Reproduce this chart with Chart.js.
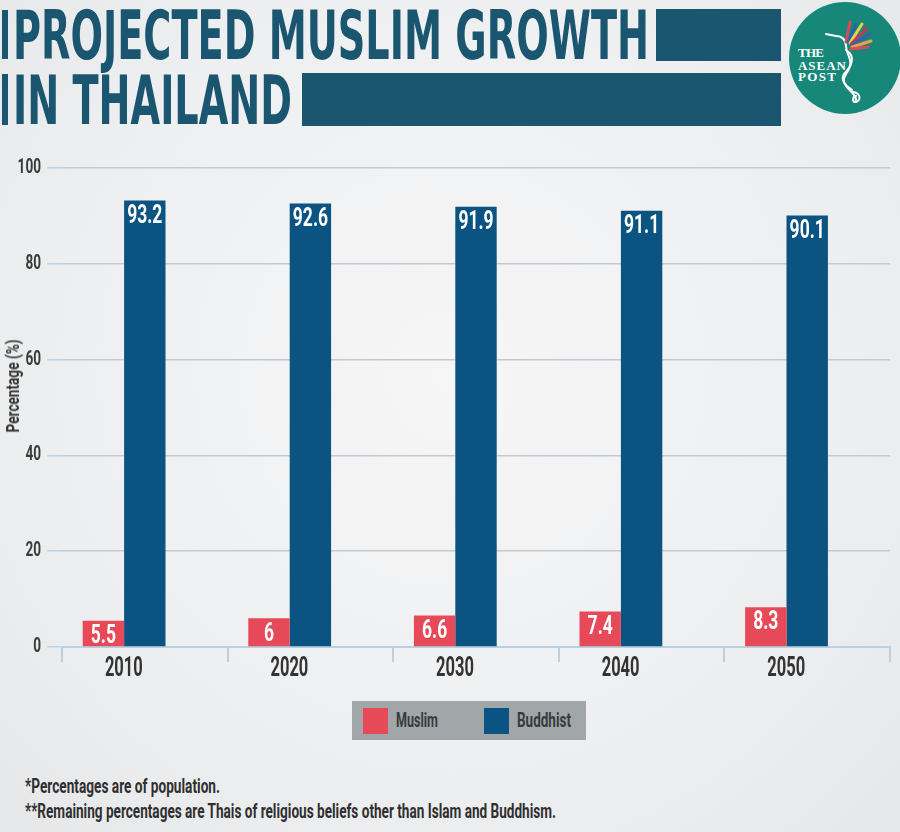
<!DOCTYPE html>
<html>
<head>
<meta charset="utf-8">
<script src="https://cdn.jsdelivr.net/npm/chart.js@4.4.1/dist/chart.umd.min.js"></script>
<style>
  html, body { margin: 0; padding: 0; }
  body {
    width: 900px; height: 832px; position: relative; overflow: hidden;
    background: radial-gradient(ellipse at 50% 45%, #f6f6f7 0%, #eeeff0 60%, #e6e7e9 100%);
    font-family: Roboto, sans-serif;
  }
  .abs { position: absolute; }
  .tbar { position: absolute; background: #1a566f; }
  .ttext {
    position: absolute; color: #1a566f; white-space: nowrap;
    font-family: 'DejaVu Sans', sans-serif;
    font-weight: bold; font-size: 68px; line-height: 68px; transform-origin: 0 0;
  }
  .fit { transform-origin: 0 0; white-space: nowrap; }
  #chartWrap { position: absolute; left: 0; top: 150px; width: 900px; height: 540px; }
  #ytitle { position: absolute; left: 13px; top: 386px; width: 0; height: 0; }
  #ytitle span {
    position: absolute; left: 0; top: 0; color: #333; font-size: 18px; font-weight: bold;
    white-space: nowrap; line-height: 18px;
  }
  #legend {
    position: absolute; left: 352px; top: 701px; width: 234px; height: 39px; background: #a1a6a9;
  }
  .sw { position: absolute; top: 7px; width: 25px; height: 26px; }
  .lt { position: absolute; top: 7px; font-size: 21px; font-weight: bold; color: #383b3e; line-height: 24px; }
  .note { position: absolute; left: 25px; color: #2f2f2f; font-size: 21px; font-weight: bold; line-height: 22px; }
</style>
</head>
<body>

<!-- title -->
<div class="tbar" style="left:2px;top:10px;width:6px;height:49px"></div>
<div class="ttext" id="t1" data-w="636" style="left:13px;top:2px">PROJECTED MUSLIM GROWTH</div>
<div class="tbar" style="left:656px;top:9px;width:125px;height:52px"></div>
<div class="tbar" style="left:2px;top:74px;width:6px;height:51px"></div>
<div class="ttext" id="t2" data-w="279" style="left:13px;top:67px">IN THAILAND</div>
<div class="tbar" style="left:302px;top:73px;width:479px;height:53px"></div>

<!-- logo -->
<svg class="abs" style="left:780px;top:0" width="120" height="120" viewBox="780 0 120 120">
  <circle cx="845" cy="58" r="56" fill="#17877a"/>
  <g font-family="'Liberation Serif','DejaVu Serif',serif" font-weight="bold" font-size="13" fill="#fff">
    <text x="798" y="57" textLength="26">THE</text>
    <text x="798" y="69.5" textLength="48">ASEAN</text>
    <text x="798" y="81" textLength="38">POST</text>
  </g>
  <g fill="none" stroke="#fff" stroke-width="2" stroke-linecap="round">
    <path d="M826 34 L836 36 C842 36 846 40 846 46 C846 54 852 58 850 66 C848 74 840 78 846 86 C850 92 856 94 856 100"/>
    <path d="M846 50 C856 56 852 66 844 74 C840 80 846 86 852 90"/>
    <path d="M852 92 C860 92 862 100 856 102 C852 102 852 97 856 96"/>
  </g>
  <g stroke-width="3" stroke-linecap="round">
    <path d="M846 42 L850 22" stroke="#d64a5a"/>
    <path d="M848 42 L856 24" stroke="#2c63a8"/>
    <path d="M850 43 L862 24" stroke="#e9d04a"/>
    <path d="M851 44 L867 28" stroke="#c2385a"/>
    <path d="M852 45 L870 34" stroke="#3b5fa8"/>
    <path d="M852 47 L871 41" stroke="#e8a34a"/>
    <path d="M851 49 L868 47" stroke="#d64a5a"/>
  </g>
</svg>

<div id="chartWrap"><canvas id="chart" width="900" height="540"></canvas></div>
<div id="ytitle"><span id="ytxt">Percentage (%)</span></div>

<div id="legend">
  <div class="sw" style="left:11px;background:#e64a59"></div>
  <div class="lt fit" data-w="42" style="left:44px">Muslim</div>
  <div class="sw" style="left:132px;background:#0b5380"></div>
  <div class="lt fit" data-w="54" style="left:165px">Buddhist</div>
</div>

<div class="note fit" data-w="195" style="top:775px">*Percentages are of population.</div>
<div class="note fit" data-w="531" style="top:800px">**Remaining percentages are Thais of religious beliefs other than Islam and Buddhism.</div>

<script>
// ── DATA ──────────────────────────────────────────────────────────────────────

const YEARS    = ['2010', '2020', '2030', '2040', '2050'];
const MUSLIM   = [5.5, 6, 6.6, 7.4, 8.3];
const BUDDHIST = [93.2, 92.6, 91.9, 91.1, 90.1];
const Y_TICKS  = [0, 20, 40, 60, 80, 100];

const FONT = "Roboto, sans-serif";

// ── TEXT FITTING ──────────────────────────────────────────────────────────────

function fitText() {
  document.querySelectorAll('.ttext, .fit').forEach(el => {
    const w = el.getBoundingClientRect().width;
    el.style.transform = `scaleX(${+el.dataset.w / w})`;
  });
  const yt = document.getElementById('ytxt');
  const r = yt.getBoundingClientRect();
  const k = 93 / r.width;
  yt.style.transformOrigin = '0 0';
  yt.style.transform = `rotate(-90deg) scaleX(${k}) translate(${-r.width / 2}px, ${-r.height / 2}px)`;
}

// canvas text is squeezed horizontally to get the condensed look of the original;
// squeeze depends on the font size in use (x labels, y labels, bar values)
const SQUEEZE = { 27: 0.61, 20: 0.68, 25: 0.7 };

function condensedContext(canvas) {
  const ctx = canvas.getContext('2d');
  const rawFill = ctx.fillText.bind(ctx);
  ctx.fillText = function (text, x, y) {
    const m = /(\d+)px/.exec(ctx.font);
    const k = (m && SQUEEZE[m[1]]) || 0.65;
    ctx.save();
    ctx.translate(x, y);
    ctx.scale(k, 1);
    rawFill(text, 0, 0);
    ctx.restore();
  };
  return ctx;
}

// ── LABELS PLUGIN ─────────────────────────────────────────────────────────────

const barLabels = {
  id: 'barLabels',
  afterDatasetsDraw(chart) {
    const ctx = chart.ctx;
    ctx.save();
    ctx.fillStyle = '#ffffff';
    ctx.font = `bold 25px ${FONT}`;
    ctx.textAlign = 'center';
    ctx.textBaseline = 'middle';
    [0, 1].forEach(di => {
      chart.getDatasetMeta(di).data.forEach((el, i) => {
        ctx.fillText(String(chart.data.datasets[di].data[i]), el.x, el.y + 16);
      });
    });
    ctx.restore();
  },
};

// ── CHART ─────────────────────────────────────────────────────────────────────

function initChart() {
  new Chart(condensedContext(document.getElementById('chart')), {
    type: 'bar',
    data: {
      labels: YEARS,
      datasets: [
        { label: 'Muslim',   data: MUSLIM,   backgroundColor: '#e64a59' },
        { label: 'Buddhist', data: BUDDHIST, backgroundColor: '#0b5380' },
        // empty third slot keeps the pair left of the category centre
        { label: '', data: YEARS.map(() => null), backgroundColor: 'transparent' },
      ],
    },
    options: {
      responsive: false,
      animation: false,
      devicePixelRatio: 1,
      layout: { padding: { top: 17, right: 10, left: 0, bottom: 0 } },
      plugins: { legend: { display: false }, tooltip: { enabled: false } },
      datasets: { bar: { categoryPercentage: 0.75, barPercentage: 1 } },
      scales: {
        x: {
          afterFit: s => { s.height = 43; },
          grid: { offset: true, drawOnChartArea: false, drawTicks: true, tickLength: 15, color: '#b9d1e4', lineWidth: 2 },
          border: { display: true, color: '#b9d1e4', width: 2 },
          ticks: { color: '#333', font: { family: FONT, size: 27, weight: 'bold' }, labelOffset: -21, padding: -9 },
        },
        y: {
          min: 0, max: 100,
          afterFit: s => { s.width = 62; },
          afterBuildTicks: s => { s.ticks = Y_TICKS.map(v => ({ value: v })); },
          grid: { color: '#c6cacf', tickColor: '#bcd3e6', tickLength: 15, lineWidth: 1.5 },
          border: { display: false },
          ticks: { color: '#3b3b3b', font: { family: FONT, size: 20, weight: 'bold' }, padding: 6 },
        },
      },
    },
    plugins: [barLabels],
  });
}

fitText();
initChart();
</script>
</body>
</html>
